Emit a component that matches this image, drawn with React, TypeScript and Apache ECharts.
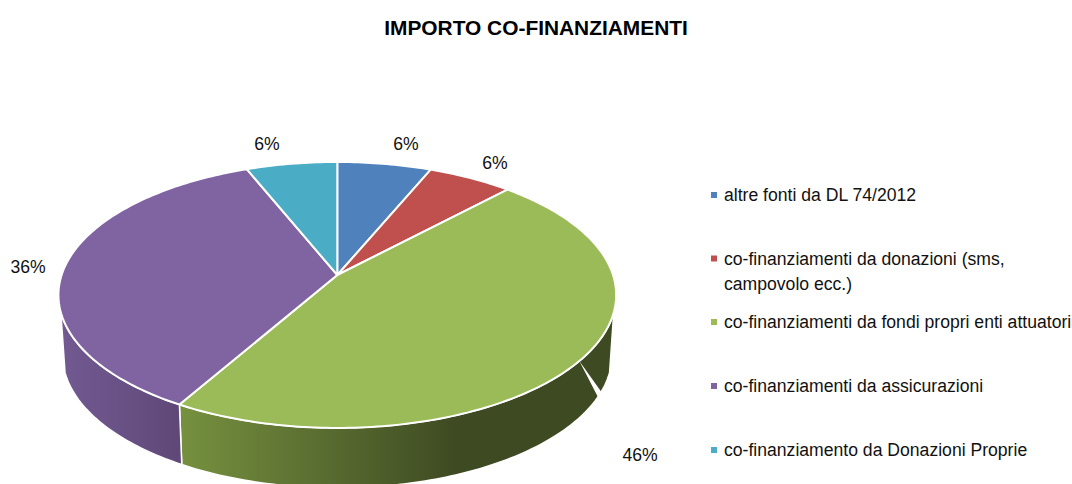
import React, { useEffect, useRef } from "react";
import * as echarts from "echarts";

const chartTitle = "IMPORTO CO-FINANZIAMENTI";
const categories = [
  "altre fonti da DL 74/2012",
  "co-finanziamenti da donazioni (sms, campovolo ecc.)",
  "co-finanziamenti da fondi propri enti attuatori",
  "co-finanziamenti da assicurazioni",
  "co-finanziamento da Donazioni Proprie",
];
const values = [6.3, 5.7, 46.3, 35.6, 6.1];
const colors = ["#4f81bd", "#c0504d", "#9bbb59", "#8064a2", "#4bacc6"];
const sideStops: (string[] | null)[] = [
  null,
  null,
  ["#76913f", "#3e4a22", "#3e4a22"],
  ["#725a92", "#5f4877", "#5f4877"],
  null,
];

const total = values.reduce((a, b) => a + b, 0);
const FONT = '"Liberation Sans", Arial, sans-serif';
const G = { cx: 337.3, apexY: 275, a: 275.7, b: 130, k: 0.15, depth: 60, bottomScale: 0.985 };
const SIDE_FROM = 106;
const SIDE_TO = 254;
const labelPos = [
  [406, 144],
  [495, 163],
  [640, 455],
  [28, 267],
  [267, 144],
];
const legendTops = [182.5, 221, 309.5, 373.5, 437.5];

function project(deg: number, bottom: boolean): number[] {
  const t = (deg * Math.PI) / 180;
  const u = Math.sin(t);
  const v = Math.cos(t);
  const w = 1 + G.k * v;
  const sx = bottom ? G.bottomScale : 1;
  return [G.cx + (G.a * sx * u) / w, G.apexY + (bottom ? G.depth : 0) - (G.b * v) / w];
}

function arc(from: number, to: number, bottom: boolean): number[][] {
  const pts: number[][] = [];
  const n = Math.max(2, Math.ceil(Math.abs(to - from)));
  for (let i = 0; i <= n; i++) pts.push(project(from + ((to - from) * i) / n, bottom));
  return pts;
}

function sliceRange(index: number): number[] {
  const before = values.slice(0, index).reduce((a, b) => a + b, 0);
  return [(before / total) * 360, ((before + values[index]) / total) * 360];
}

function makeRenderItem(index: number) {
  return () => {
    const [start, end] = sliceRange(index);
    const children: any[] = [];
    const from = Math.max(start, SIDE_FROM);
    const to = Math.min(end, SIDE_TO);
    const stops = sideStops[index];
    if (stops && to > from) {
      const points = [...arc(from, to, false), ...arc(to, from, true)];
      children.push({
        type: "polygon",
        shape: { points },
        style: {
          fill: {
            type: "linear",
            x: index === 2 ? 1 : 0,
            y: 0,
            x2: index === 2 ? 0 : 1,
            y2: 0,
            colorStops: index === 2
              ? [
                  { offset: 0, color: stops[2] },
                  { offset: 0.36, color: stops[1] },
                  { offset: 1, color: stops[0] },
                ]
              : [
                  { offset: 0, color: stops[0] },
                  { offset: 1, color: stops[1] },
                ],
          },
          stroke: "#ffffff",
          lineWidth: 1.5,
        },
      });
    }
    if (index === 2) {
      const top = project(127, false);
      const tip = project(114.2, true);
      children.push({
        type: "polygon",
        shape: { points: [top, tip, [tip[0] + 3, tip[1] + 3], project(116.4, true)] },
        style: { fill: "#ffffff" },
      });
    }
    children.push({
      type: "polygon",
      shape: { points: [[G.cx, G.apexY], ...arc(start, end, false)] },
      style: { fill: colors[index], stroke: "#ffffff", lineWidth: 2, lineJoin: "round" },
    });
    children.push({
      type: "text",
      style: {
        text: `${Math.round((values[index] / total) * 100)}%`,
        x: labelPos[index][0],
        y: labelPos[index][1],
        fill: "#111111",
        fontSize: 17.6,
        fontFamily: FONT,
        align: "center",
        verticalAlign: "middle",
      },
    });
    return { type: "group", children };
  };
}

export default function App() {
  const ref = useRef<HTMLDivElement>(null);
  useEffect(() => {
    document.body.style.margin = "0";
    const chart = echarts.init(ref.current!, null, { renderer: "svg" });
    chart.setOption({
      animation: false,
      backgroundColor: "#ffffff",
      color: colors,
      title: {
        text: chartTitle,
        left: "center",
        top: 12,
        textStyle: { fontFamily: FONT, fontSize: 20.9, fontWeight: "bold", color: "#000000" },
      },
      legend: categories.map((name, i) => ({
        data: [name],
        left: 711,
        top: legendTops[i],
        padding: 0,
        icon: "rect",
        itemWidth: 6,
        itemHeight: 6,
        itemGap: 0,
        selectedMode: false,
        formatter: (n: string) =>
          n.includes("(sms,") ? "\nco-finanziamenti da donazioni (sms,\ncampovolo ecc.)" : n,
        textStyle: {
          fontFamily: FONT,
          fontSize: 17.6,
          lineHeight: 25,
          color: "#111111",
          padding: [0, 0, 0, 2],
        },
      })),
      series: categories.map((name, i) => ({
        type: "custom",
        name,
        coordinateSystem: "none",
        silent: true,
        data: [[values[i]]],
        renderItem: makeRenderItem(i),
      })),
    });
    return () => chart.dispose();
  }, []);
  return <div ref={ref} style={{ position: "absolute", left: 0, top: 0, width: 1072, height: 484 }} />;
}
